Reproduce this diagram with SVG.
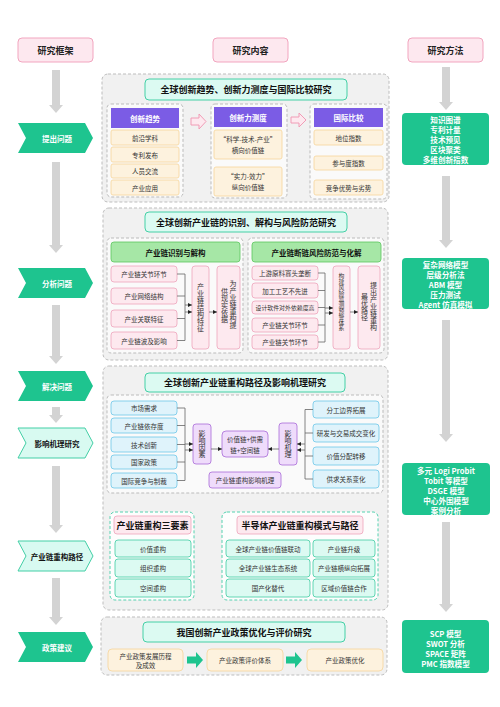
<svg xmlns="http://www.w3.org/2000/svg" width="500" height="707" viewBox="0 0 500 707">
<defs>
<style>
text{font-family:"Noto Sans CJK SC","Noto Sans",sans-serif;dominant-baseline:central;text-anchor:middle}
.hdr{fill:#fde8ef;stroke:#f2a5bf;stroke-width:1}
.hdrt{font-size:9px;font-weight:bold;fill:#222}
.chev{fill:#1ec48f}
.chevl{fill:#d8faf1;stroke:#43cfa6;stroke-width:1}
.chevt{font-size:7.5px;font-weight:bold;fill:#fff}
.chevtl{font-size:7.5px;font-weight:bold;fill:#111}
.gar{fill:#d3d3d3}
.meth{fill:#1ec48f}
.metht{font-size:7.6px;font-weight:bold;fill:#fff}
.outer{fill:#f1f1f1;stroke:#bdbdbd;stroke-dasharray:3 2;stroke-width:1}
.sub{fill:#fafafa;stroke:#bbb;stroke-dasharray:3 2;stroke-width:1}
.title{fill:#dcfaf2;stroke:#44d0a6;stroke-width:1}
.titlet{font-size:9px;font-weight:bold;fill:#111}
.purp{fill:#7b5ce5}
.purpt{font-size:7.5px;font-weight:bold;fill:#fff}
.peach{fill:#fdf2de;stroke:#f6d49a;stroke-width:0.8}
.it{font-size:6.5px;fill:#333}
.gh{fill:#a6e7a6;stroke:#5cc65e;stroke-width:0.8}
.ght{font-size:7.5px;font-weight:bold;fill:#111}
.pink{fill:#fde9ef;stroke:#eea3bb;stroke-width:0.8}
.blue{fill:#dff3fb;stroke:#6cc7e8;stroke-width:0.8}
.vio{fill:#efdcfb;stroke:#a86ad8;stroke-width:0.8}
.gsub{fill:#fdfdfd;stroke:#55d2b0;stroke-dasharray:3 2;stroke-width:1}
.cy{fill:#dcfaf2;stroke:#3fcca2;stroke-width:0.8}
.pkt{font-size:9px;font-weight:bold;fill:#111}
.conn{stroke:#666;fill:none;stroke-width:0.8}
.vt{writing-mode:vertical-rl;font-size:7px;fill:#333}
.parr{fill:#fde9ef;stroke:#f19cb6;stroke-width:1}
.garr{fill:#1ec48f}
</style>
<marker id="ah" viewBox="0 0 6 6" refX="6" refY="3" markerWidth="5" markerHeight="5" orient="auto">
<path d="M0,0 L6,3 L0,6 Z" fill="#222"/>
</marker>
<path id="chevShape" d="M18,0 H85 L93,15 L85,30 H18 L26,15 Z"/>
</defs>
<rect width="500" height="707" fill="#fff"/>

<!-- headers -->
<g id="hdr-framework"><rect class="hdr" x="18" y="38" width="75" height="24" rx="4"/><text class="hdrt" x="55.5" y="50">研究框架</text></g>
<g id="hdr-content"><rect class="hdr" x="213" y="38" width="75" height="24" rx="4"/><text class="hdrt" x="250.5" y="50">研究内容</text></g>
<g id="hdr-method"><rect class="hdr" x="408" y="38" width="75" height="24" rx="4"/><text class="hdrt" x="445.5" y="50">研究方法</text></g>

<!-- left column gray arrows & right column arrows -->
<g id="connectors-flow">
<path class="gar" d="M52,70 H60 V105 H63 L56,113 L49,105 H52 Z"/>
<path class="gar" d="M52,162 H60 V245 H63 L56,253 L49,245 H52 Z"/>
<path class="gar" d="M52,305 H60 V356 H63 L56,364 L49,356 H52 Z"/>
<path class="gar" d="M52,407 H60 V415 H63 L56,423 L49,415 H52 Z"/>
<path class="gar" d="M52,466 H60 V525 H63 L56,533 L49,525 H52 Z"/>
<path class="gar" d="M52,578 H60 V617 H63 L56,625 L49,617 H52 Z"/>
<path class="gar" d="M442,67 H450 V102 H453 L446,110 L439,102 H442 Z"/>
<path class="gar" d="M442,176 H450 V240 H453 L446,248 L439,240 H442 Z"/>
<path class="gar" d="M442,320 H450 V434 H453 L446,442 L439,434 H442 Z"/>
<path class="gar" d="M442,522 H450 V604 H453 L446,612 L439,604 H442 Z"/>
</g>

<!-- chevrons -->
<g id="step-1"><use href="#chevShape" class="chev" transform="translate(0,123)"/><text class="chevt" x="57" y="138">提出问题</text></g>
<g id="step-2"><use href="#chevShape" class="chev" transform="translate(0,268)"/><text class="chevt" x="57" y="283">分析问题</text></g>
<g id="step-3"><use href="#chevShape" class="chev" transform="translate(0,371)"/><text class="chevt" x="57" y="386">解决问题</text></g>
<g id="step-4"><use href="#chevShape" class="chevl" transform="translate(0,428)"/><text class="chevtl" x="57" y="443">影响机理研究</text></g>
<g id="step-5"><use href="#chevShape" class="chevl" transform="translate(0,541)"/><text class="chevtl" x="57" y="556">产业链重构路径</text></g>
<g id="step-6"><use href="#chevShape" class="chev" transform="translate(0,632)"/><text class="chevt" x="57" y="647">政策建议</text></g>

<!-- methods -->
<g id="method-1"><rect class="meth" x="402" y="113" width="87" height="52" rx="4"/>
<text class="metht" x="445.5" y="119.5">知识图谱</text><text class="metht" x="445.5" y="129.5">专利计量</text><text class="metht" x="445.5" y="139.5">技术预见</text><text class="metht" x="445.5" y="149.5">区块聚类</text><text class="metht" x="445.5" y="159.5">多维创新指数</text></g>
<g id="method-2"><rect class="meth" x="402" y="258" width="87" height="51" rx="4"/>
<text class="metht" x="445.5" y="264">复杂网络模型</text><text class="metht" x="445.5" y="274">层级分析法</text><text class="metht" x="445.5" y="284">ABM 模型</text><text class="metht" x="445.5" y="294">压力测试</text><text class="metht" x="445.5" y="304">Agent 仿真模拟</text></g>
<g id="method-3"><rect class="meth" x="402" y="463" width="88" height="52" rx="4"/>
<text class="metht" x="446" y="470">多元 Logi Probit</text><text class="metht" x="446" y="480">Tobit 等模型</text><text class="metht" x="446" y="490">DSGE 模型</text><text class="metht" x="446" y="500">中心外围模型</text><text class="metht" x="446" y="510">案例分析</text></g>
<g id="method-4"><rect class="meth" x="402" y="620" width="87" height="53" rx="4"/>
<text class="metht" x="445.5" y="633">SCP 模型</text><text class="metht" x="445.5" y="643">SWOT 分析</text><text class="metht" x="445.5" y="653">SPACE 矩阵</text><text class="metht" x="445.5" y="663">PMC 指数模型</text></g>

<!-- section 1 -->
<g id="section-1">
<rect class="outer" x="102" y="74" width="287" height="128" rx="6"/>
<rect class="title" x="145" y="79" width="202" height="21" rx="4"/>
<text class="titlet" x="246" y="89.5">全球创新趋势、创新力测度与国际比较研究</text>
<rect class="sub" x="107" y="104" width="76" height="93" rx="4"/>
<rect class="purp" x="111" y="108" width="68" height="20"/><text class="purpt" x="145" y="118">创新趋势</text>
<rect class="peach" x="111" y="130" width="68" height="15" rx="2"/><text class="it" x="145" y="137.5">前沿学科</text>
<rect class="peach" x="111" y="147" width="68" height="15" rx="2"/><text class="it" x="145" y="154.5">专利发布</text>
<rect class="peach" x="111" y="164" width="68" height="14" rx="2"/><text class="it" x="145" y="171">人员交流</text>
<rect class="peach" x="111" y="180" width="68" height="15" rx="2"/><text class="it" x="145" y="187.5">产业应用</text>
<path class="parr" d="M191,118 H199 V114 L206,121.5 L199,129 V125 H191 Z"/>
<rect class="sub" x="211" y="104" width="76" height="94" rx="4"/>
<rect class="purp" x="214" y="107" width="68" height="20"/><text class="purpt" x="248" y="117">创新力测度</text>
<rect class="peach" x="214" y="130" width="68" height="29" rx="2"/><text class="it" x="248" y="139">“科学-技术-产业”</text><text class="it" x="248" y="150">横向价值链</text>
<rect class="peach" x="214" y="167" width="68" height="29" rx="2"/><text class="it" x="248" y="176">“实力-效力”</text><text class="it" x="248" y="187">纵向价值链</text>
<path class="parr" d="M291,117 H299 V113 L306,120 L299,127 V123 H291 Z"/>
<rect class="sub" x="310" y="104" width="77" height="95" rx="4"/>
<rect class="purp" x="314" y="108" width="69" height="19"/><text class="purpt" x="348.5" y="117.5">国际比较</text>
<rect class="peach" x="314" y="130" width="69" height="15" rx="2"/><text class="it" x="348.5" y="137.5">地位指数</text>
<rect class="peach" x="314" y="156" width="69" height="14" rx="2"/><text class="it" x="348.5" y="163">参与度指数</text>
<rect class="peach" x="314" y="180" width="69" height="15" rx="2"/><text class="it" x="348.5" y="187.5">竞争优势与劣势</text>
</g>

<!-- section 2 -->
<g id="section-2">
<rect class="outer" x="103" y="208" width="285" height="152" rx="6"/>
<rect class="title" x="145" y="212" width="202" height="20" rx="4"/>
<text class="titlet" x="246" y="222">全球创新产业链的识别、解构与风险防范研究</text>
<rect class="sub" x="107" y="238" width="136" height="115" rx="4"/>
<rect class="gh" x="111" y="242" width="129" height="20" rx="3"/><text class="ght" x="175.5" y="252">产业链识别与解构</text>
<rect class="pink" x="111" y="266" width="66" height="16" rx="3"/><text class="it" x="144" y="274">产业链关节环节</text>
<rect class="pink" x="111" y="288" width="66" height="16" rx="3"/><text class="it" x="144" y="296">产业网络结构</text>
<rect class="pink" x="111" y="310" width="66" height="17" rx="3"/><text class="it" x="144" y="318.5">产业关联特征</text>
<rect class="pink" x="111" y="332" width="66" height="17" rx="3"/><text class="it" x="144" y="340.5">产业链波及影响</text>
<rect class="pink" x="192" y="266" width="17" height="83" rx="3"/><text class="vt" x="200.5" y="307.5">产业链结构特征</text>
<rect class="pink" x="217" y="266" width="23" height="83" rx="3"/><text class="vt" x="233" y="304">为产业链重构提</text><text class="vt" x="224.5" y="305">供现实依据</text>
<rect class="sub" x="248" y="238" width="136" height="115" rx="4"/>
<rect class="gh" x="252" y="242" width="129" height="20" rx="3"/><text class="ght" x="316.5" y="252">产业链断链风险防范与化解</text>
<rect class="pink" x="252" y="266" width="66" height="14" rx="3"/><text class="it" x="285" y="273">上游原料寡头垄断</text>
<rect class="pink" x="252" y="283" width="66" height="15" rx="3"/><text class="it" x="285" y="290.5">加工工艺不先进</text>
<rect class="pink" x="252" y="301" width="66" height="13" rx="3"/><text class="it" x="285" y="307.5" style="font-size:5.9px">设计软件对外依赖度高</text>
<rect class="pink" x="252" y="318" width="66" height="14" rx="3"/><text class="it" x="285" y="325">产业链关节环节</text>
<rect class="pink" x="252" y="335" width="66" height="14" rx="3"/><text class="it" x="285" y="342">产业链关节环节</text>
<rect class="pink" x="333" y="266" width="17" height="83" rx="3"/><text class="vt" x="341.5" y="302" style="font-size:5.8px">构建风险监测预警体系</text>
<rect class="pink" x="358" y="266" width="22" height="83" rx="3"/><text class="vt" x="373.5" y="306.5">提出产业链重构</text><text class="vt" x="364.5" y="307">最优路径</text>
</g>

<!-- section 3 -->
<g id="section-3">
<rect class="outer" x="103" y="366" width="285" height="244" rx="6"/>
<rect class="title" x="145" y="373" width="200" height="19" rx="4"/>
<text class="titlet" x="245" y="382.5">全球创新产业链重构路径及影响机理研究</text>
<rect class="sub" x="107" y="395" width="276" height="98" rx="4"/>
<rect class="blue" x="111" y="401" width="66" height="14" rx="3"/><text class="it" x="144" y="408">市场需求</text>
<rect class="blue" x="111" y="418" width="66" height="15" rx="3"/><text class="it" x="144" y="425.5">产业链依存度</text>
<rect class="blue" x="111" y="437" width="66" height="15" rx="3"/><text class="it" x="144" y="444.5">技术创新</text>
<rect class="blue" x="111" y="455" width="66" height="14" rx="3"/><text class="it" x="144" y="462">国家政策</text>
<rect class="blue" x="111" y="473" width="66" height="15" rx="3"/><text class="it" x="144" y="480.5">国际竞争与制裁</text>
<rect class="vio" x="193" y="424" width="18" height="40" rx="3"/><text class="vt" x="202" y="444">影响因素</text>
<rect class="vio" x="222" y="431" width="46" height="26" rx="4"/><text class="it" x="245" y="438.5">价值链+供需</text><text class="it" x="245" y="449.5">链+空间链</text>
<rect class="vio" x="279" y="423" width="18" height="42" rx="3"/><text class="vt" x="288" y="444">影响机理</text>
<rect class="blue" x="313" y="401" width="66" height="17" rx="3"/><text class="it" x="346" y="409.5">分工边界拓展</text>
<rect class="blue" x="313" y="424" width="66" height="18" rx="3"/><text class="it" x="346" y="433">研发与交易成交变化</text>
<rect class="blue" x="313" y="447" width="66" height="18" rx="3"/><text class="it" x="346" y="456">价值分配转移</text>
<rect class="blue" x="313" y="470" width="66" height="18" rx="3"/><text class="it" x="346" y="479">供求关系变化</text>
<rect class="vio" x="209" y="472" width="72" height="16" rx="3"/><text class="it" x="245" y="480">产业链重构影响机理</text>

<rect class="gsub" x="110" y="512" width="84" height="88" rx="5"/>
<rect class="pink" x="114" y="516" width="77" height="18" rx="3"/><text class="pkt" x="152.5" y="525">产业链重构三要素</text>
<rect class="cy" x="115" y="540" width="76" height="17" rx="3"/><text class="it" x="153" y="548.5">价值重构</text>
<rect class="cy" x="115" y="559" width="76" height="18" rx="3"/><text class="it" x="153" y="568">组织重构</text>
<rect class="cy" x="115" y="579" width="76" height="18" rx="3"/><text class="it" x="153" y="588">空间重构</text>
<rect class="gsub" x="222" y="512" width="156" height="88" rx="5"/>
<rect class="pink" x="237" y="516" width="126" height="18" rx="3"/><text class="pkt" x="300" y="525">半导体产业链重构模式与路径</text>
<rect class="cy" x="226" y="540" width="84" height="17" rx="3"/><text class="it" x="268" y="548.5">全球产业链价值链联动</text>
<rect class="cy" x="313" y="540" width="62" height="17" rx="3"/><text class="it" x="344" y="548.5">产业链升级</text>
<rect class="cy" x="226" y="559" width="84" height="18" rx="3"/><text class="it" x="268" y="568">全球产业链生态系统</text>
<rect class="cy" x="313" y="559" width="62" height="18" rx="3"/><text class="it" x="344" y="568">产业链横纵向拓展</text>
<rect class="cy" x="226" y="579" width="84" height="18" rx="3"/><text class="it" x="268" y="588">国产化替代</text>
<rect class="cy" x="313" y="579" width="62" height="18" rx="3"/><text class="it" x="344" y="588">区域价值链合作</text>
</g>

<!-- section 4 -->
<g id="section-4">
<rect class="outer" x="101" y="617" width="286" height="58" rx="6"/>
<rect class="title" x="143" y="622" width="202" height="20" rx="4"/>
<text class="titlet" x="244" y="632">我国创新产业政策优化与评价研究</text>
<rect class="peach" x="108" y="649" width="75" height="22" rx="4"/><text class="it" x="145.5" y="655.5">产业政策发展历程</text><text class="it" x="145.5" y="665">及成效</text>
<path class="garr" d="M187,656.5 H196 V652 L203,660 L196,668 V663.5 H187 Z"/>
<rect class="peach" x="207" y="649" width="76" height="22" rx="4"/><text class="it" x="245" y="660">产业政策评价体系</text>
<path class="garr" d="M286,656.5 H295 V652 L302,660 L295,668 V663.5 H286 Z"/>
<rect class="peach" x="307" y="649" width="76" height="22" rx="4"/><text class="it" x="345" y="660">产业政策优化</text>
</g>

<!-- connectors -->
<g id="connectors">
<path class="conn" d="M177,274 H185 M177,296 H185 M177,318.5 H185 M177,340.5 H185 M185,274 V340.5"/>
<path class="conn" d="M185,305 H192" marker-end="url(#ah)"/>
<path class="conn" d="M185,312 H192" marker-end="url(#ah)"/>
<path class="conn" d="M209,312 H217" marker-end="url(#ah)"/>
<path class="conn" d="M318,273 H325 M318,290.5 H325 M318,307.5 H325 M318,325 H325 M318,342 H325 M325,273 V342"/>
<path class="conn" d="M325,308 H333" marker-end="url(#ah)"/>
<path class="conn" d="M325,313 H333" marker-end="url(#ah)"/>
<path class="conn" d="M350,312 H358" marker-end="url(#ah)"/>
<path class="conn" d="M177,408 H185 M177,425.5 H185 M177,444.5 H185 M177,462 H185 M177,480.5 H185 M185,408 V480.5"/>
<path class="conn" d="M185,444 H193" marker-end="url(#ah)"/>
<path class="conn" d="M185,450 H193" marker-end="url(#ah)"/>
<path class="conn" d="M211,449 H222" marker-end="url(#ah)"/>
<path class="conn" d="M313,409.5 H305 M313,433 H305 M313,456 H305 M313,479 H305 M305,409.5 V479"/>
<path class="conn" d="M305,444 H297" marker-end="url(#ah)"/>
<path class="conn" d="M305,450 H297" marker-end="url(#ah)"/>
<path class="conn" d="M279,449 H268" marker-end="url(#ah)"/>
</g>
</svg>
